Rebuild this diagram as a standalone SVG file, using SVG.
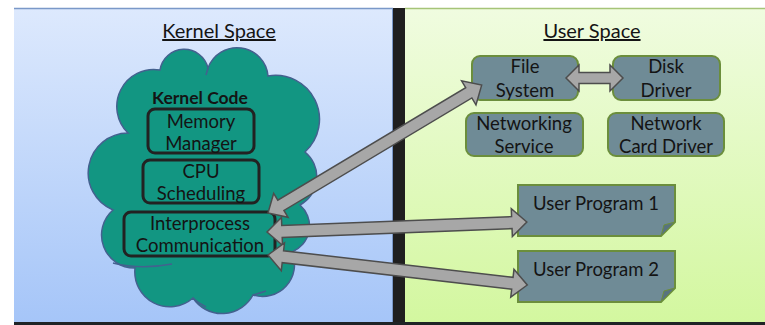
<svg xmlns="http://www.w3.org/2000/svg" width="765" height="325" viewBox="0 0 765 325">
  <defs>
    <linearGradient id="kernelBg" x1="0" y1="0" x2="0" y2="1">
      <stop offset="0" stop-color="#dde9fd"/>
      <stop offset="1" stop-color="#a5c5f8"/>
    </linearGradient>
    <linearGradient id="userBg" x1="0" y1="0" x2="0" y2="1">
      <stop offset="0" stop-color="#f0fce0"/>
      <stop offset="1" stop-color="#d3f79f"/>
    </linearGradient>
  </defs>
  <style>
    text { font-family: Lato, "Liberation Sans", sans-serif; fill: #141414; text-anchor: middle; }
    .title { font-size: 20px; text-decoration: underline; }
    .lbl { font-size: 18.5px; }
    .kbox { fill: #129682; stroke: #222; stroke-width: 3; }
    .ubox { fill: #6f8b96; stroke: #6b8e3c; stroke-width: 2; }
    .fold { fill: #58737e; stroke: #6b8e3c; stroke-width: 1; }
    .cloud { fill: #129682; stroke: #44618f; stroke-width: 1.5; }
    .inner { fill: none; stroke: #44618f; stroke-width: 1.5; }
    .arrow { fill: #a7a7a7; stroke: #4d4d4d; stroke-width: 1.5; stroke-linejoin: miter; }
  </style>

  <!-- background panels -->
  <g id="panels">
    <rect x="14" y="8" width="379" height="316" fill="url(#kernelBg)"/>
    <line x1="14" y1="8.5" x2="393" y2="8.5" stroke="#7a98c8" stroke-width="1.5"/>
    <line x1="392.5" y1="8" x2="392.5" y2="322" stroke="#7a98c8" stroke-width="1"/>
    <rect x="405" y="8" width="360" height="316" fill="url(#userBg)"/>
    <line x1="405" y1="8.5" x2="765" y2="8.5" stroke="#a6c478" stroke-width="1.5"/>
    <rect x="393" y="8" width="12" height="317" fill="#1f1f1f"/>
    <rect x="14" y="322" width="751" height="3" fill="#1f2326"/>
    <text class="title" x="219" y="38">Kernel Space</text>
    <text class="title" x="592" y="38">User Space</text>
  </g>

  <!-- kernel cloud -->
  <g id="kernel">
    <path class="cloud" d="M160,70 A24.5,24.5 0 0 1 208,68 A31,31 0 0 1 268,76 A44,44 0 0 1 305,152 A32,32 0 0 1 300,205 A28,28 0 0 1 292,252 A32,32 0 0 1 253,295 A35,35 0 0 1 193,298 A35,35 0 0 1 135,268 A33,33 0 0 1 113,210 A40,40 0 0 1 128,133 A37,37 0 0 1 160,70 Z"/>
    <path class="inner" d="M208,68 Q207,72 206,75"/>
    <path class="inner" d="M193,298 Q198,303 206,307"/>
    <path class="inner" d="M253,295 Q260,293 266,291"/>
    <path class="inner" d="M113,263 Q140,270 172,264"/>
    <text x="200" y="104" style="font-size:17.5px;font-weight:bold">Kernel Code</text>
  </g>

  <g id="memory-manager">
    <rect class="kbox" x="148" y="109" width="106" height="44" rx="7"/>
    <text class="lbl" x="201" y="128">Memory</text>
    <text class="lbl" x="201" y="150">Manager</text>
  </g>

  <g id="cpu-scheduling">
    <rect class="kbox" x="143" y="160" width="116" height="43" rx="7"/>
    <text class="lbl" x="201" y="178">CPU</text>
    <text class="lbl" x="201" y="200">Scheduling</text>
  </g>

  <g id="ipc">
    <rect class="kbox" x="124" y="212" width="151" height="44" rx="7"/>
    <text class="lbl" x="200" y="230">Interprocess</text>
    <text class="lbl" x="200" y="252">Communication</text>
  </g>

  <!-- user space services -->
  <g id="file-system">
    <rect class="ubox" x="472" y="56" width="106" height="44" rx="8"/>
    <text class="lbl" x="525" y="73">File</text>
    <text class="lbl" x="525" y="97">System</text>
  </g>

  <g id="disk-driver">
    <rect class="ubox" x="613" y="56" width="107" height="44" rx="8"/>
    <text class="lbl" x="666" y="73">Disk</text>
    <text class="lbl" x="666" y="97">Driver</text>
  </g>

  <g id="networking-service">
    <rect class="ubox" x="466" y="113" width="117" height="43" rx="8"/>
    <text class="lbl" x="524" y="130">Networking</text>
    <text class="lbl" x="524" y="153">Service</text>
  </g>

  <g id="network-card-driver">
    <rect class="ubox" x="608" y="113" width="116" height="43" rx="8"/>
    <text class="lbl" x="666" y="130">Network</text>
    <text class="lbl" x="666" y="153">Card Driver</text>
  </g>

  <g id="user-program-1">
    <path class="ubox" d="M518,185 H675 V222 L661,236 H518 Z"/>
    <path class="fold" d="M675,222 L661,236 L664,225 Z"/>
    <text class="lbl" x="596" y="210">User Program 1</text>
  </g>

  <g id="user-program-2">
    <path class="ubox" d="M518,251 H675 V288 L661,302 H518 Z"/>
    <path class="fold" d="M675,288 L661,302 L664,291 Z"/>
    <text class="lbl" x="596" y="276">User Program 2</text>
  </g>

  <!-- connectors: double-headed block arrows -->
  <g id="connectors">
    <path class="arrow" transform="translate(268,213) rotate(-30.9)" d="M0,0 L15,-14 L15,-6 L234,-6 L234,-14 L249,0 L234,14 L234,6 L15,6 L15,14 Z"/>
    <path class="arrow" transform="translate(267,232) rotate(-2.2)" d="M0,0 L15,-14 L15,-6 L245,-6 L245,-14 L260,0 L245,14 L245,6 L15,6 L15,14 Z"/>
    <path class="arrow" transform="translate(268,255) rotate(6.6)" d="M0,0 L15,-14 L15,-6 L246,-6 L246,-14 L261,0 L246,14 L246,6 L15,6 L15,14 Z"/>
    <path class="arrow" transform="translate(566,78)" d="M0,0 L13,-13 L13,-5.5 L44,-5.5 L44,-13 L57,0 L44,13 L44,5.5 L13,5.5 L13,13 Z"/>
  </g>
</svg>
